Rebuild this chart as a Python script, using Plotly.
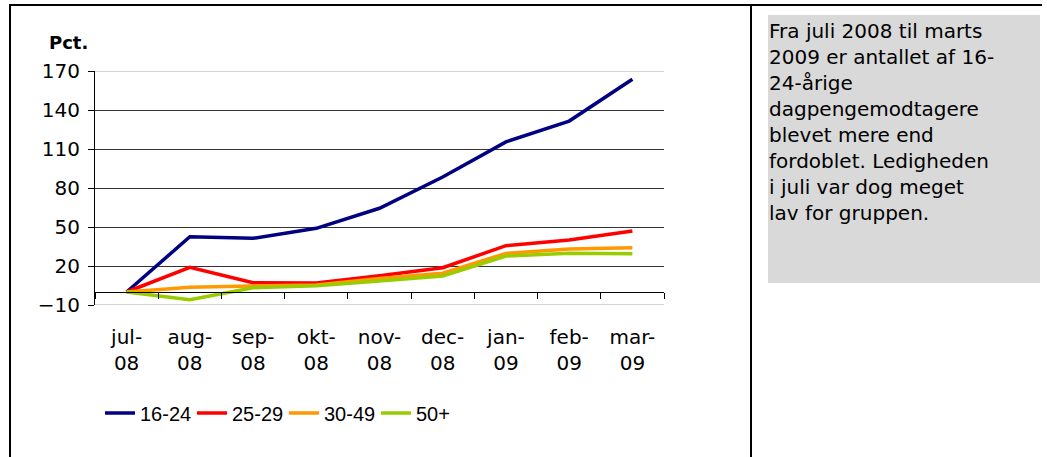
import plotly.graph_objects as go

categories = ["jul-<br>08", "aug-<br>08", "sep-<br>08", "okt-<br>08", "nov-<br>08",
              "dec-<br>08", "jan-<br>09", "feb-<br>09", "mar-<br>09"]
s_16_24 = [0, 42.5, 41.3, 49, 64.4, 88.5, 115.5, 131.5, 163.6]
s_25_29 = [0, 19, 7.2, 6.9, 12.5, 18.7, 35.6, 40, 46.9]
s_30_49 = [0, 3.6, 4.6, 5.3, 10.3, 14.4, 29.7, 33, 34]
s_50p = [0, -5.9, 3.3, 4.8, 8.5, 12.3, 27.7, 29.9, 29.5]
series = [("16-24", s_16_24, "#000080"), ("25-29", s_25_29, "#FF0000"),
          ("30-49", s_30_49, "#FF9900"), ("50+", s_50p, "#99CC00")]
y_ticks = [-10, 20, 50, 80, 110, 140, 170]
note_lines = ["Fra juli 2008 til marts", "2009 er antallet af 16-", "24-årige",
              "dagpengemodtagere", "blevet mere end", "fordoblet. Ledigheden",
              "i juli var dog meget", "lav for gruppen."]

W, H = 1047, 457
L, R, T, B = 95, 664, 71, 305
ymin, ymax = -10, 170


def px(x):
    return (x - L) / (R - L)


def py(y):
    return (B - y) / (B - T)


xs = list(range(len(categories)))
fig = go.Figure()
for name, vals, col in series:
    fig.add_trace(go.Scatter(x=xs, y=vals, mode="lines", name=name,
                             line=dict(color=col, width=3.5), hoverinfo="skip"))
fig.add_trace(go.Scatter(x=[], y=[], xaxis="x2", showlegend=False, hoverinfo="skip"))

font = "DejaVu Sans, Verdana, sans-serif"
fig.update_layout(
    width=W, height=H,
    margin=dict(l=L, r=W - R, t=T, b=H - B),
    paper_bgcolor="white", plot_bgcolor="white",
    font=dict(family=font, size=20, color="black"),
    showlegend=True,
    legend=dict(orientation="h", x=px(100), xanchor="left", y=py(413), yanchor="middle",
                font=dict(family="Liberation Sans, Arial, sans-serif", size=20),
                entrywidth=47, entrywidthmode="pixels",
                bgcolor="rgba(0,0,0,0)"),
    xaxis=dict(range=[-0.5, 8.5], tickvals=xs, ticktext=categories, showline=False,
               showgrid=False, zeroline=False, ticks="outside", ticklen=14,
               tickcolor="rgba(0,0,0,0)", tickfont=dict(size=20)),
    xaxis2=dict(overlaying="x", anchor="free", position=(0 - ymin) / (ymax - ymin),
                range=[-0.5, 8.5], tickvals=[i - 0.5 for i in range(len(categories) + 1)],
                showticklabels=False, ticks="outside", ticklen=6, tickcolor="black",
                showline=True, linecolor="black", linewidth=1, showgrid=False, zeroline=False),
    yaxis=dict(range=[ymin, ymax], tickvals=y_ticks, showline=True, linecolor="black",
               linewidth=1, ticks="outside", ticklen=6, tickcolor="black",
               ticklabelstandoff=4,
               gridcolor="#333333", gridwidth=1, zeroline=False, tickfont=dict(size=20)),
)

shapes = []
for yv in [ymin, ymax]:
    shapes.append(dict(type="line", xref="paper", yref="y", x0=0, x1=1, y0=yv, y1=yv,
                       line=dict(color="#D4D4D4", width=2), layer="above"))
# grey note box
shapes.append(dict(type="rect", xref="paper", yref="paper", x0=px(768), x1=px(1040),
                   y0=py(283), y1=py(15), fillcolor="#D9D9D9", line=dict(width=0), layer="below"))
# frame lines
for x0, y0, x1, y1 in [(10, 5, 10, 457), (9, 5, 1042, 5), (751, 5, 751, 457)]:
    shapes.append(dict(type="line", xref="paper", yref="paper", x0=px(x0), x1=px(x1),
                       y0=py(y0), y1=py(y1), line=dict(color="black", width=2)))
fig.update_layout(shapes=shapes)

fig.add_annotation(text="<b>Pct.</b>", xref="paper", yref="paper", x=px(68), y=py(42),
                   xanchor="center", yanchor="middle", showarrow=False,
                   font=dict(family=font, size=18, color="black"))
fig.add_annotation(text="<br>".join(note_lines), xref="paper", yref="paper",
                   x=px(768), y=py(18), xanchor="left", yanchor="top", align="left",
                   showarrow=False, borderpad=0,
                   font=dict(family=font, size=20, color="black"))

fig.write_html("out.html", post_script="document.body.style.margin='0';",
               config={"displayModeBar": False})
